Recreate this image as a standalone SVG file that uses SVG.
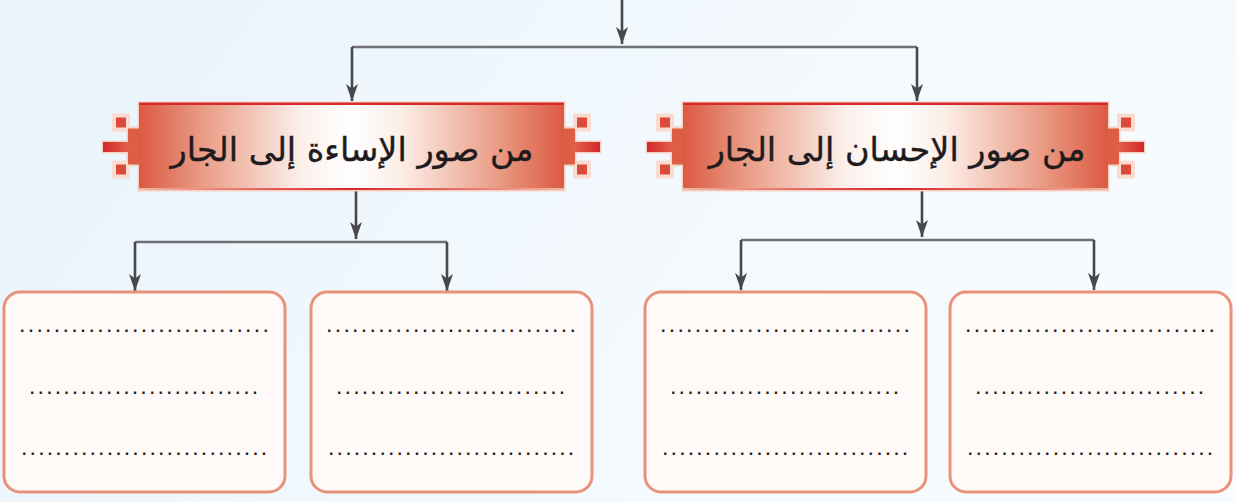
<svg xmlns="http://www.w3.org/2000/svg" xmlns:xlink="http://www.w3.org/1999/xlink" width="1236" height="502" viewBox="0 0 1236 502">
  <defs>
    <linearGradient id="bg" x1="0" y1="0" x2="1" y2="0.3">
      <stop offset="0" stop-color="#e8f3fb"/>
      <stop offset="0.5" stop-color="#f1f8fd"/>
      <stop offset="1" stop-color="#f7fbfe"/>
    </linearGradient>
    <linearGradient id="bodyGrad" x1="0" y1="0" x2="1" y2="0">
      <stop offset="0" stop-color="#dc5a41"/>
      <stop offset="0.16" stop-color="#eaa08a"/>
      <stop offset="0.38" stop-color="#fcefea"/>
      <stop offset="0.5" stop-color="#ffffff"/>
      <stop offset="0.62" stop-color="#fcede7"/>
      <stop offset="0.84" stop-color="#ea9d87"/>
      <stop offset="1" stop-color="#dc5a41"/>
    </linearGradient>
    <linearGradient id="botLine" x1="0" y1="0" x2="1" y2="0">
      <stop offset="0" stop-color="#f2b7a5"/>
      <stop offset="0.5" stop-color="#d7282c"/>
      <stop offset="1" stop-color="#f2b7a5"/>
    </linearGradient>
    <linearGradient id="stubL" x1="0" y1="0" x2="1" y2="0">
      <stop offset="0" stop-color="#d3262a"/>
      <stop offset="1" stop-color="#e0634a"/>
    </linearGradient>
    <linearGradient id="stubR" x1="1" y1="0" x2="0" y2="0">
      <stop offset="0" stop-color="#d3262a"/>
      <stop offset="1" stop-color="#e0634a"/>
    </linearGradient>
    <marker id="arrow" markerUnits="userSpaceOnUse" viewBox="0 0 17 12" refX="17" refY="6" markerWidth="17" markerHeight="12" orient="auto">
      <path d="M0,0 L17,6 L0,12 L4.5,6 Z" fill="#48484a"/>
    </marker>
    <g id="hdrShape">
      <path d="M-1.5,101.5 H426.5 V126.5 H437.5 V140.5 H462.5 V153.5 H437.5 V166.5 H426.5 V191.5 H-1.5 V166.5 H-12.5 V153.5 H-37.5 V140.5 H-12.5 V126.5 H-1.5 Z" fill="#f7d2c4"/>
      <rect x="-27" y="113.5" width="18" height="18" fill="#f9dcd1"/>
      <rect x="-27" y="160.5" width="18" height="18" fill="#f9dcd1"/>
      <rect x="434" y="113.5" width="18" height="18" fill="#f9dcd1"/>
      <rect x="434" y="160.5" width="18" height="18" fill="#f9dcd1"/>
      <rect x="-23" y="117.5" width="10" height="10" fill="#dc4b39"/>
      <rect x="-23" y="164.5" width="10" height="10" fill="#dc4b39"/>
      <rect x="438" y="117.5" width="10" height="10" fill="#dc4b39"/>
      <rect x="438" y="164.5" width="10" height="10" fill="#dc4b39"/>
      <rect x="-11" y="128.5" width="12" height="36" fill="#de5d45"/>
      <rect x="424" y="128.5" width="12" height="36" fill="#de5d45"/>
      <rect x="-36" y="142" width="26" height="10" fill="url(#stubL)"/>
      <rect x="435" y="142" width="26" height="10" fill="url(#stubR)"/>
      <rect x="0" y="103.5" width="425" height="86" fill="url(#bodyGrad)"/>
      <rect x="0" y="102.5" width="425" height="2.5" fill="#d7282c"/>
      <rect x="0" y="188" width="425" height="2" fill="url(#botLine)"/>
    </g>
  </defs>
  <style>
    .conn { fill: none; stroke: #48484a; stroke-width: 2.6; }
    .bar { fill: none; stroke: #6e7073; stroke-width: 2.6; }
    .box { fill: #fffaf7; stroke: #e8927b; stroke-width: 3; }
    .hdr { font-family: "DejaVu Sans", "Noto Sans", sans-serif; font-size: 33.5px; fill: #1f1b1c; stroke: #1f1b1c; stroke-width: 0.4px; }
    .dots { font-family: "Liberation Sans", Arial, sans-serif; font-size: 16px; font-weight: bold; fill: #231f20; }
    .d1 { letter-spacing: 4.25px; }
    .d2 { letter-spacing: 4.12px; }
  </style>

  <rect x="0" y="0" width="1236" height="502" fill="url(#bg)"/>

  <g id="connectors">
    <path class="conn" d="M622,0 V44" marker-end="url(#arrow)"/>
    <path class="bar" d="M352,47 H917"/>
    <path class="conn" d="M352,47 V101" marker-end="url(#arrow)"/>
    <path class="conn" d="M917,47 V101" marker-end="url(#arrow)"/>
    <path class="conn" d="M356,190 V239" marker-end="url(#arrow)"/>
    <path class="bar" d="M135,242 H447"/>
    <path class="conn" d="M135,242 V291" marker-end="url(#arrow)"/>
    <path class="conn" d="M447,242 V291" marker-end="url(#arrow)"/>
    <path class="conn" d="M922,190 V237" marker-end="url(#arrow)"/>
    <path class="bar" d="M741,240 H1094"/>
    <path class="conn" d="M741,240 V290" marker-end="url(#arrow)"/>
    <path class="conn" d="M1094,240 V290" marker-end="url(#arrow)"/>
  </g>

  <g id="header-bad">
    <use xlink:href="#hdrShape" href="#hdrShape" transform="translate(139,0)"/>
    <text class="hdr" x="352" y="161" text-anchor="middle" direction="rtl">من صور الإساءة إلى الجار</text>
  </g>
  <g id="header-good">
    <use xlink:href="#hdrShape" href="#hdrShape" transform="translate(683,0)"/>
    <text class="hdr" x="897" y="161" text-anchor="middle" direction="rtl">من صور الإحسان إلى الجار</text>
  </g>

  <g id="box1">
    <rect class="box" x="4" y="292" width="281" height="200" rx="16"/>
    <text class="dots d1" x="20" y="332">.............................</text>
    <text class="dots d2" x="30" y="394">...........................</text>
    <text class="dots d2" x="22" y="455">.............................</text>
  </g>
  <g id="box2">
    <rect class="box" x="311" y="292" width="281" height="200" rx="16"/>
    <text class="dots d1" x="327" y="332">.............................</text>
    <text class="dots d2" x="337" y="394">...........................</text>
    <text class="dots d2" x="329" y="455">.............................</text>
  </g>
  <g id="box3">
    <rect class="box" x="645" y="292" width="281" height="200" rx="16"/>
    <text class="dots d1" x="661" y="332">.............................</text>
    <text class="dots d2" x="671" y="394">...........................</text>
    <text class="dots d2" x="663" y="455">.............................</text>
  </g>
  <g id="box4">
    <rect class="box" x="950" y="292" width="281" height="200" rx="16"/>
    <text class="dots d1" x="966" y="332">.............................</text>
    <text class="dots d2" x="976" y="394">...........................</text>
    <text class="dots d2" x="968" y="455">.............................</text>
  </g>
</svg>
